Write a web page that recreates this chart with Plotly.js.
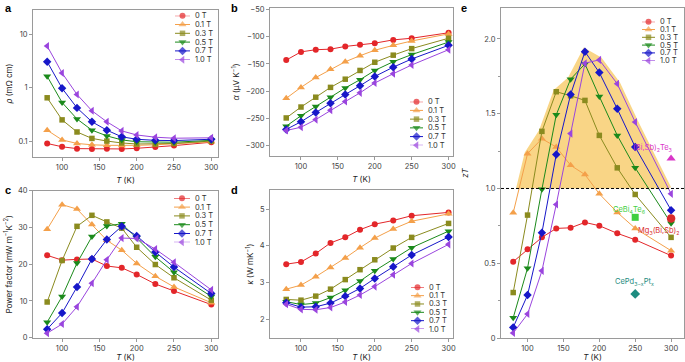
<!DOCTYPE html>
<html><head><meta charset="utf-8">
<script src="https://cdn.plot.ly/plotly-3.0.1.min.js"></script>
<style>html,body{margin:0;padding:0;background:#fff}#chart{width:685px;height:362px}</style>
</head><body><div id="chart"></div>
<script>
// ---------- data ----------
const temps = [80, 100, 120, 140, 160, 180, 200, 225, 250, 300];
const fields = ['0 T', '0.1 T', '0.3 T', '0.5 T', '0.7 T', '1.0 T'];

// a: resistivity (mOhm cm)
const rho_0T  = [0.090, 0.078, 0.072, 0.071, 0.072, 0.071, 0.073, 0.077, 0.082, 0.095];
const rho_01T = [0.16, 0.105, 0.090, 0.085, 0.083, 0.082, 0.083, 0.085, 0.088, 0.097];
const rho_03T = [0.65, 0.25, 0.148, 0.112, 0.100, 0.092, 0.088, 0.088, 0.090, 0.100];
const rho_05T = [1.65, 0.53, 0.26, 0.16, 0.125, 0.105, 0.097, 0.095, 0.095, 0.103];
const rho_07T = [3.1, 0.98, 0.42, 0.23, 0.16, 0.12, 0.108, 0.103, 0.102, 0.108];
const rho_10T = [6.1, 1.9, 0.75, 0.37, 0.23, 0.155, 0.13, 0.118, 0.113, 0.115];

// b: Seebeck (uV/K)
const alpha_0T  = [-143, -128, -124, -123, -118, -115, -112, -106, -103, -93];
const alpha_01T = [-213, -193, -175, -160, -146, -135, -125, -116, -108, -95];
const alpha_03T = [-249, -229, -211, -193, -178, -162, -147, -134, -122, -103];
const alpha_05T = [-264, -245, -228, -211, -194, -179, -162, -146, -133, -110];
const alpha_07T = [-270, -256, -239, -222, -206, -190, -173, -156, -141, -116];
const alpha_10T = [-272, -266, -252, -235, -219, -203, -185, -168, -152, -124];

// c: power factor
const pf_0T  = [22.4, 21.1, 21.3, 21.4, 19.5, 19.0, 17.2, 14.6, 12.7, 9.0];
const pf_01T = [29.5, 36.2, 35.0, 30.8, 26.5, 23.8, 20.2, 16.7, 13.8, 9.5];
const pf_03T = [9.7, 21.0, 30.3, 33.3, 31.5, 29.8, 24.6, 19.9, 16.3, 10.2];
const pf_05T = [4.2, 11.2, 20.3, 27.5, 30.4, 31.0, 27.1, 22.0, 17.8, 11.2];
const pf_07T = [2.3, 6.7, 13.8, 21.4, 26.7, 30.3, 27.7, 23.3, 19.2, 12.0];
const pf_10T = [1.2, 3.7, 8.4, 14.8, 21.2, 27.1, 27.0, 24.1, 20.5, 13.0];

// d: thermal conductivity
const kappa_0T  = [3.50, 3.56, 3.79, 4.08, 4.23, 4.44, 4.59, 4.69, 4.82, 4.91];
const kappa_01T = [2.82, 2.93, 3.16, 3.41, 3.67, 3.95, 4.21, 4.46, 4.67, 4.87];
const kappa_03T = [2.54, 2.52, 2.63, 2.82, 3.08, 3.35, 3.62, 3.94, 4.23, 4.61];
const kappa_05T = [2.48, 2.40, 2.44, 2.59, 2.79, 3.04, 3.32, 3.64, 3.95, 4.40];
const kappa_07T = [2.45, 2.33, 2.34, 2.44, 2.63, 2.84, 3.11, 3.43, 3.75, 4.24];
const kappa_10T = [2.41, 2.27, 2.26, 2.32, 2.47, 2.66, 2.89, 3.21, 3.52, 4.04];

// e: zT
const zt_0T  = [0.51, 0.593, 0.673, 0.733, 0.737, 0.773, 0.751, 0.700, 0.657, 0.551];
const zt_01T = [0.837, 1.233, 1.333, 1.277, 1.155, 1.093, 0.964, 0.840, 0.733, 0.584];
const zt_03T = [0.304, 0.822, 1.382, 1.647, 1.620, 1.589, 1.355, 1.138, 0.960, 0.673];
const zt_05T = [0.135, 0.467, 0.995, 1.493, 1.731, 1.833, 1.615, 1.355, 1.138, 0.767];
const zt_07T = [0.071, 0.287, 0.704, 1.227, 1.629, 1.915, 1.775, 1.533, 1.277, 0.855];
const zt_10T = [0.033, 0.160, 0.449, 0.893, 1.367, 1.838, 1.860, 1.700, 1.444, 0.964];

// e: reference materials
const refNames = ['(Bi,Sb)<sub>2</sub>Te<sub>3</sub>', 'CeBi<sub>4</sub>Te<sub>6</sub>', 'Mg<sub>3</sub>(Bi,Sb)<sub>2</sub>', 'CePd<sub>3−x</sub>Pt<sub>x</sub>'];
const refT  = [300, 250, 300, 250];
const refZT = [1.20, 0.807, 0.80, 0.295];

const xTicks = [100, 150, 200, 250, 300];

// ---------- style ----------
const F = 'Inter, "Noto Sans", sans-serif';
const colors  = ['#e3262a', '#f4a04a', '#8b8b1f', '#1b8a1b', '#1717c9', '#9a45de'];
const symbols = ['circle', 'triangle-up', 'square', 'triangle-down', 'diamond', 'triangle-left'];
const msize   = [6, 7, 5.5, 7, 6.5, 7];
const refColors = ['#d936c8', '#3fcf3f', '#d92b2b', '#1d8c80'];
const refSymbols = ['triangle-up', 'square', 'circle', 'diamond'];
const refSizes = [8, 7, 8.5, 7.5];

const W = 685, H = 362;
const px = v => v / W, py = v => 1 - v / H;

const traces = [];

// fill envelope (zT > 1) in panel e, drawn first
const zSeries = [zt_0T, zt_01T, zt_03T, zt_05T, zt_07T, zt_10T];
const env = temps.map((t, i) => Math.max(...zSeries.map(s => s[i])));
const thr = 1.0;
const polyX = [], polyY = [];
for (let i = 0; i < temps.length; i++) {
  if (i > 0) {
    const a = env[i - 1], b = env[i];
    if ((a - thr) * (b - thr) < 0) {
      const f = (thr - a) / (b - a);
      polyX.push(temps[i - 1] + f * (temps[i] - temps[i - 1])); polyY.push(thr);
    }
  }
  if (env[i] >= thr) { polyX.push(temps[i]); polyY.push(env[i]); }
}
const fillCol = 'rgb(249,213,134)';
traces.push({type: 'scatter', mode: 'lines', x: polyX, y: polyY, xaxis: 'x5', yaxis: 'y5',
  fill: 'toself', fillcolor: fillCol, line: {width: 0, color: fillCol}, showlegend: false, hoverinfo: 'skip'});
traces.push({type: 'scatter', mode: 'lines', x: polyX, y: polyY, xaxis: 'x5', yaxis: 'y5',
  line: {width: 6, color: fillCol}, showlegend: false, hoverinfo: 'skip'});

function addPanel(series, xa, ya) {
  series.forEach((ys, i) => traces.push({
    type: 'scatter', mode: 'lines+markers', x: temps, y: ys, xaxis: xa, yaxis: ya,
    name: fields[i], showlegend: false, cliponaxis: false,
    line: {color: colors[i], width: 1},
    marker: {symbol: symbols[i], size: msize[i], color: colors[i], line: {width: 0}}
  }));
}
addPanel([rho_0T, rho_01T, rho_03T, rho_05T, rho_07T, rho_10T], 'x', 'y');
addPanel([alpha_0T, alpha_01T, alpha_03T, alpha_05T, alpha_07T, alpha_10T], 'x2', 'y2');
addPanel([pf_0T, pf_01T, pf_03T, pf_05T, pf_07T, pf_10T], 'x3', 'y3');
addPanel([kappa_0T, kappa_01T, kappa_03T, kappa_05T, kappa_07T, kappa_10T], 'x4', 'y4');
addPanel(zSeries, 'x5', 'y5');

// reference materials
refT.forEach((t, i) => traces.push({
  type: 'scatter', mode: 'markers', x: [t], y: [refZT[i]], xaxis: 'x5', yaxis: 'y5',
  showlegend: false, cliponaxis: false,
  marker: {symbol: refSymbols[i], size: refSizes[i], color: refColors[i], line: {width: 0}}
}));

// compact legends (hidden helper axes)
const legends = [
  {x0: 175, x1: 190, yt: 15.7, yb: 59.7, id: 6},
  {x0: 410, x1: 423, yt: 101.7, yb: 145.3, id: 7},
  {x0: 174, x1: 190, yt: 198.3, yb: 242.3, id: 8},
  {x0: 411, x1: 424, yt: 287.3, yb: 329, id: 9},
  {x0: 642, x1: 655, yt: 21.7, yb: 60.7, id: 10}
];
const legendAnn = [];
legends.forEach(L => {
  fields.forEach((f, i) => {
    traces.push({
      type: 'scatter', mode: 'lines+markers', x: [0, 0.5, 1], y: [i, i, i],
      xaxis: 'x' + L.id, yaxis: 'y' + L.id, showlegend: false, cliponaxis: false, hoverinfo: 'skip',
      line: {color: colors[i], width: 1},
      marker: {symbol: symbols[i], size: [0, msize[i], 0], color: colors[i], line: {width: 0}}
    });
    legendAnn.push({text: f, xref: 'x' + L.id, yref: 'y' + L.id, x: 1, y: i, xanchor: 'left', yanchor: 'middle',
      xshift: 3, showarrow: false, font: {family: F, size: 7.5, color: '#333'}});
  });
});

// ---------- layout ----------
function ax(domain, range, extra) {
  return Object.assign({
    domain: domain, range: range, showline: true, linecolor: '#9a9a9a', linewidth: 1, mirror: true,
    ticks: 'outside', ticklen: 3, tickcolor: '#9a9a9a', tickwidth: 1,
    showgrid: false, zeroline: false, fixedrange: true,
    tickfont: {family: F, size: 7.5, color: '#444'}
  }, extra);
}
const tf = {family: F, size: 8, color: '#222'};
const xT = anchor => ({anchor: anchor, tickmode: 'array', tickvals: xTicks,
  title: {text: '<i>T</i> (K)', font: tf, standoff: 6}});

const layout = {
  width: W, height: H, margin: {l: 0, r: 0, t: 0, b: 0},
  paper_bgcolor: '#fff', plot_bgcolor: 'rgba(0,0,0,0)', showlegend: false,
  font: {family: F},
  xaxis:  ax([px(33), px(218)], [61, 309], xT('y')),
  yaxis:  ax([py(157), py(10)], [-1.3, 1.463], {anchor: 'x', type: 'log', tickmode: 'array',
           tickvals: [0.1, 1, 10], ticktext: ['0.1', '1', '10'],
           title: {text: '<i>ρ</i> (mΩ cm)', font: tf, standoff: 4}}),
  xaxis2: ax([px(270), px(453)], [58, 306], xT('y2')),
  yaxis2: ax([py(156), py(8)], [-318.7, -47.6], {anchor: 'x2', dtick: 50, tick0: 0,
           title: {text: '<i>α</i> (μV K<sup>−1</sup>)', font: tf, standoff: 4}}),
  xaxis3: ax([px(33), px(218)], [61, 309], xT('y3')),
  yaxis3: ax([py(338), py(190.7)], [-0.1, 40], {anchor: 'x3', dtick: 10, tick0: 0,
           title: {text: 'Power factor (mW m<sup>−1</sup>K<sup>−2</sup>)', font: tf, standoff: 4}}),
  xaxis4: ax([px(270), px(453)], [58, 306], xT('y4')),
  yaxis4: ax([py(338), py(190)], [1.49, 5.52], {anchor: 'x4', dtick: 1, tick0: 0,
           title: {text: '<i>κ</i> (W mK<sup>−1</sup>)', font: tf, standoff: 4}}),
  xaxis5: ax([px(501), px(684)], [63, 318], xT('y5')),
  yaxis5: ax([py(338), py(8)], [0, 2.207], {anchor: 'x5', tickmode: 'array',
           tickvals: [0, 0.5, 1, 1.5, 2], ticktext: ['0', '0.5', '1.0', '1.5', '2.0'],
           minor: {tickmode: 'array', tickvals: [0.25, 0.75, 1.25, 1.75], ticks: 'outside', ticklen: 2, tickcolor: '#9a9a9a'},
           title: {text: '<i>zT</i>', font: tf, standoff: 14}}),
  shapes: [
    {type: 'line', xref: 'x5 domain', yref: 'y5', x0: 0, x1: 1, y0: 1, y1: 1,
     line: {color: '#000', width: 1, dash: '3px,2px'}}
  ],
  annotations: legendAnn
};
legends.forEach(L => {
  layout['xaxis' + L.id] = {domain: [px(L.x0), px(L.x1)], range: [0, 1], visible: false, fixedrange: true, anchor: 'y' + L.id};
  layout['yaxis' + L.id] = {domain: [py(L.yb), py(L.yt)], range: [5, 0], visible: false, fixedrange: true, anchor: 'x' + L.id};
});

// panel letters
[['a', 3, 8], ['b', 229, 8], ['c', 3, 190], ['d', 229, 190], ['e', 459, 8]].forEach(p => {
  layout.annotations.push({text: '<b>' + p[0] + '</b>', xref: 'paper', yref: 'paper', x: px(p[1]), y: py(p[2]),
    xanchor: 'left', yanchor: 'middle', showarrow: false,
    font: {family: 'Liberation Sans, Arial, sans-serif', size: 11, color: '#000'}});
});

// reference labels
const refLabelPos = [[274, 1.27], [241.5, 0.855], [283, 0.715], [249, 0.373]];
refNames.forEach((n, i) => layout.annotations.push({
  text: n, xref: 'x5', yref: 'y5', x: refLabelPos[i][0], y: refLabelPos[i][1],
  xanchor: 'center', yanchor: 'middle', showarrow: false,
  font: {family: F, size: 7.5, color: refColors[i]}
}));

Plotly.newPlot('chart', traces, layout, {staticPlot: true, displayModeBar: false});
</script>
</body></html>
